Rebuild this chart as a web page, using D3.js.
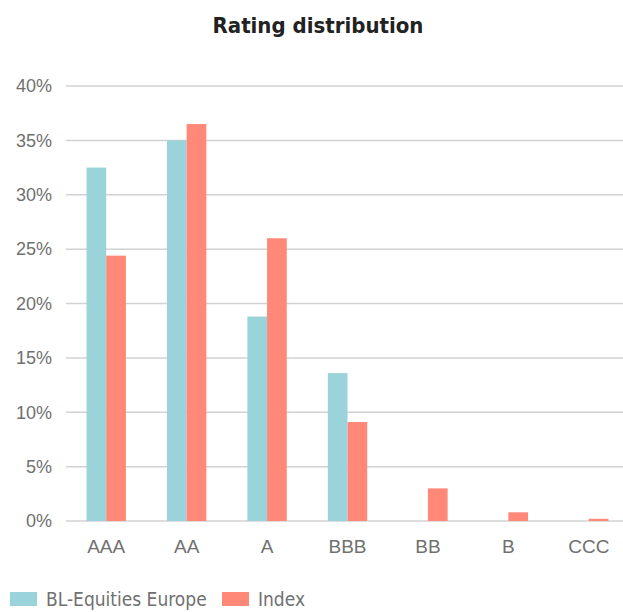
<!DOCTYPE html>
<html>
<head>
<meta charset="utf-8">
<script src="https://cdn.jsdelivr.net/npm/d3@7"></script>
<style>
	body { margin: 0; background: #fff; }
	svg { display: block; font-family: "Liberation Sans Narrow", "DejaVu Sans Condensed", sans-serif; }
	.grid line { stroke: #d2d2d2; stroke-width: 1.5; }
	.axis text { fill: #707070; font-size: 18px; }
	.axis--x text { font-size: 19px; }
	.legend text { fill: #707070; font-size: 19px; }
</style>
</head>
<body>
<svg width="623" height="612"></svg>
<script>
// chart data
var ratings = ["AAA", "AA", "A", "BBB", "BB", "B", "CCC"];
var seriesNames = ["BL-Equities Europe", "Index"];
var fund = [32.5, 35.0, 18.8, 13.6, 0, 0, 0];
var index = [24.4, 36.5, 26.0, 9.1, 3.0, 0.8, 0.2];
var yTicks = [0, 5, 10, 15, 20, 25, 30, 35, 40];
var colors = ["#9bd3da", "#ff8878"];

var svg = d3.select("svg"),
	margin = {top: 86, right: -6, bottom: 91, left: 66},
	width = +svg.attr("width") - margin.left - margin.right,
	height = +svg.attr("height") - margin.top - margin.bottom;

var g = svg.append("g")
	.attr("transform", "translate(" + margin.left + "," + margin.top + ")");

var x0 = d3.scaleBand()
	.domain(ratings)
	.range([0, width]);

var x1 = d3.scaleBand()
	.domain(seriesNames)
	.range([0, 39.4])
	.padding(0);

var y = d3.scaleLinear()
	.domain([0, 40])
	.range([height, 0]);

// gridlines
g.append("g")
	.attr("class", "grid")
	.selectAll("line")
	.data(yTicks)
	.enter().append("line")
	.attr("x1", 0)
	.attr("x2", width)
	.attr("y1", function(d) { return y(d); })
	.attr("y2", function(d) { return y(d); });

// y axis labels
g.append("g")
	.attr("class", "axis axis--y")
	.call(d3.axisLeft(y).tickValues(yTicks).tickSize(0).tickPadding(14)
		.tickFormat(function(d) { return d + "%"; }))
	.call(function(a) { a.select(".domain").remove(); });

// x axis labels
g.append("g")
	.attr("class", "axis axis--x")
	.attr("transform", "translate(0," + height + ")")
	.call(d3.axisBottom(x0).tickSize(0).tickPadding(19))
	.call(function(a) { a.select(".domain").remove(); });

var rows = ratings.map(function(r, i) {
	return {rating: r, values: [fund[i], index[i]]};
});

var groups = g.append("g")
	.selectAll("g")
	.data(rows)
	.enter().append("g")
	.attr("transform", function(d) { return "translate(" + (x0(d.rating) + x0.bandwidth() / 2 - 19.7) + ",0)"; });

groups.selectAll("rect")
	.data(function(d) { return d.values.map(function(v, i) { return {name: seriesNames[i], value: v, i: i}; }); })
	.enter().append("rect")
	.attr("x", function(d) { return x1(d.name); })
	.attr("width", x1.bandwidth())
	.attr("y", function(d) { return y(d.value); })
	.attr("height", function(d) { return height - y(d.value); })
	.attr("fill", function(d) { return colors[d.i]; });

// title
svg.append("text")
	.attr("x", 318)
	.attr("y", 33)
	.attr("text-anchor", "middle")
	.attr("fill", "#222")
	.style("font-size", "22px")
	.style("font-weight", "bold")
	.text("Rating distribution");

// legend
var legendX = [10, 222];
var legend = svg.append("g")
	.attr("class", "legend")
	.selectAll("g")
	.data(seriesNames)
	.enter().append("g")
	.attr("transform", function(d, i) { return "translate(" + legendX[i] + ",592)"; });

legend.append("rect")
	.attr("width", 27)
	.attr("height", 14)
	.attr("fill", function(d, i) { return colors[i]; });

legend.append("text")
	.attr("x", 36)
	.attr("y", 14)
	.text(function(d) { return d; });
</script>
</body>
</html>
